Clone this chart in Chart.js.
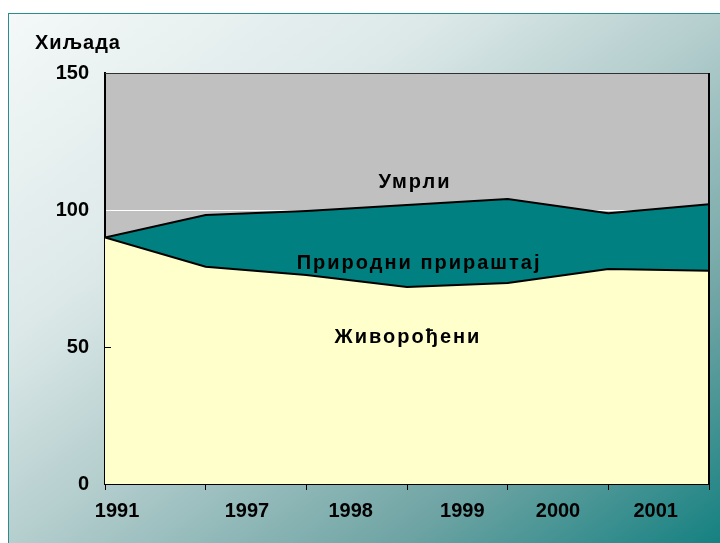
<!DOCTYPE html>
<html>
<head>
<meta charset="utf-8">
<script src="https://cdn.jsdelivr.net/npm/chart.js@4"></script>
<style>
  html, body { margin: 0; padding: 0; background: #ffffff; }
  body { width: 720px; height: 543px; position: relative; overflow: hidden; }
  #okvir {
    position: absolute; left: 8px; top: 13px; width: 730px; height: 545px;
    border: 1px solid #2a8c8c;
    background: linear-gradient(to bottom right, #f4f8f8 0%, #dce8e8 30%, #b2cccc 50%, #6fa4a4 75%, #0a7c7c 100%);
  }
  #graf { position: absolute; left: 0; top: 0; }
</style>
</head>
<body>
<div id="okvir"></div>
<canvas id="graf" width="720" height="543"></canvas>
<script>
// Подаци (хиљада)
const godine = ['1991', '1997', '1998', '1999', '2000', '2001'];
const zivorodjeni = [90, 79.3, 76.3, 71.9, 73.4, 78.5, 77.8];
const umrli = [90, 98.2, 99.6, 101.8, 104.0, 98.8, 102.1];
const yTicks = [0, 50, 100, 150];

// где стоје натписи година на оси (у јединицама тачака)
const polozajGodina = [0.12, 1.41, 2.44, 3.55, 4.5, 5.47];

const font = { family: '"Liberation Sans", Arial, sans-serif', size: 20, weight: 'bold' };

// сива позадина површине графика
const pozadina = {
  id: 'pozadina',
  beforeDraw(chart) {
    const { ctx, chartArea: a } = chart;
    ctx.save();
    ctx.fillStyle = '#c0c0c0';
    ctx.fillRect(a.left, a.top, a.right - a.left, a.bottom - a.top);
    ctx.restore();
  },
  afterDatasetsDraw(chart) {
    const { ctx, chartArea: a } = chart;
    ctx.save();
    ctx.strokeStyle = '#303030';
    ctx.lineWidth = 1;
    ctx.beginPath();
    ctx.moveTo(a.left, a.top + 0.5);
    ctx.lineTo(a.right, a.top + 0.5);
    ctx.stroke();
    ctx.strokeStyle = '#000';
    ctx.lineWidth = 2;
    ctx.beginPath();
    ctx.moveTo(a.right, a.top);
    ctx.lineTo(a.right, a.bottom);
    ctx.stroke();
    // кратка ознака на 50, према унутра
    const y50 = chart.scales.y.getPixelForValue(50);
    ctx.lineWidth = 1;
    ctx.beginPath();
    ctx.moveTo(a.left, Math.round(y50) + 0.5);
    ctx.lineTo(a.left + 6, Math.round(y50) + 0.5);
    ctx.stroke();
    ctx.restore();
  }
};

// натписи унутар површина и наслов осе
const natpisi = {
  id: 'natpisi',
  afterDraw(chart) {
    const { ctx, scales: { x, y }, chartArea: a } = chart;
    ctx.save();
    ctx.fillStyle = '#000';
    ctx.font = 'bold 20px "Liberation Sans", Arial, sans-serif';
    ctx.textBaseline = 'middle';
    ctx.letterSpacing = '2px';
    ctx.textAlign = 'center';
    ctx.fillText('Умрли', x.getPixelForValue(3.08), y.getPixelForValue(110.2));
    ctx.fillText('Природни прираштај', x.getPixelForValue(3.12), y.getPixelForValue(80.3));
    ctx.fillText('Живорођени', x.getPixelForValue(3.01), y.getPixelForValue(53.6));
    ctx.letterSpacing = '1px';
    ctx.textAlign = 'left';
    ctx.fillText('Хиљада', a.left - 70, a.top - 30);
    ctx.restore();
  }
};

const tacke = (niz) => niz.map((v, i) => ({ x: i, y: v }));

new Chart(document.getElementById('graf'), {
  type: 'line',
  data: {
    datasets: [
      {
        label: 'Живорођени',
        data: tacke(zivorodjeni),
        fill: 'origin',
        backgroundColor: '#ffffcc',
        borderColor: '#000',
        borderWidth: 2,
        pointRadius: 0,
        tension: 0
      },
      {
        label: 'Умрли',
        data: tacke(umrli),
        fill: '-1',
        backgroundColor: '#008080',
        borderColor: '#000',
        borderWidth: 2,
        pointRadius: 0,
        tension: 0
      }
    ]
  },
  options: {
    responsive: false,
    animation: false,
    layout: { padding: { top: 73, right: 11, left: 0, bottom: 0 } },
    plugins: {
      legend: { display: false },
      tooltip: { enabled: false }
    },
    scales: {
      x: {
        type: 'linear',
        min: 0,
        max: 6,
        ticks: { stepSize: 1, display: false },
        grid: { drawOnChartArea: false, drawTicks: true, tickLength: 6, color: '#000', lineWidth: 1 },
        border: { display: true, color: '#000', width: 2 },
        afterFit: s => { s.height = 6; }
      },
      x2: {
        type: 'linear',
        position: 'bottom',
        min: 0,
        max: 6,
        grid: { display: false },
        border: { display: false },
        afterBuildTicks: s => { s.ticks = polozajGodina.map(v => ({ value: v })); },
        ticks: {
          autoSkip: false,
          maxRotation: 0,
          padding: 1,
          color: '#000',
          font,
          callback: (v, i) => godine[i]
        },
        afterFit: s => { s.height = 53; }
      },
      y: {
        min: 0,
        max: 150,
        afterBuildTicks: s => { s.ticks = yTicks.map(v => ({ value: v })); },
        ticks: { padding: 16, color: '#000', font },
        grid: { color: '#ffffff', lineWidth: 1, drawTicks: false },
        border: { display: true, color: '#000', width: 2 },
        afterFit: s => { s.width = 105; }
      }
    }
  },
  plugins: [pozadina, natpisi]
});
</script>
</body>
</html>
